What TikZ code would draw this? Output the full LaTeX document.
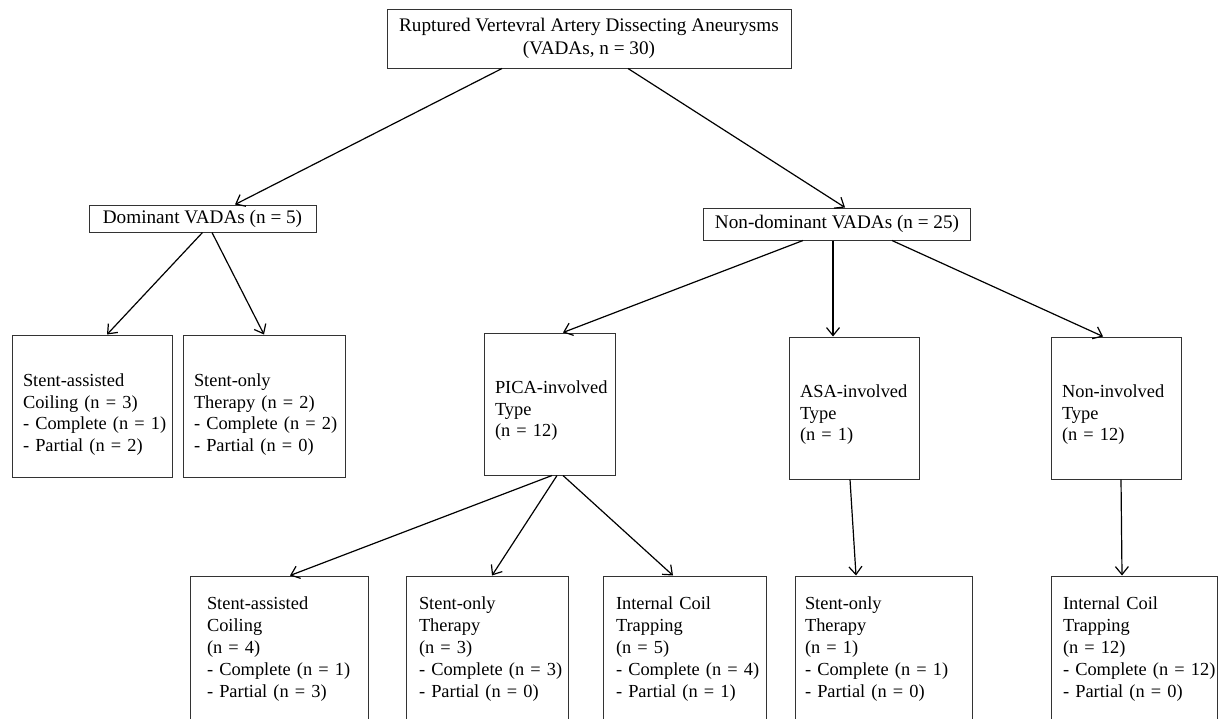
\documentclass[tikz,border=0pt]{standalone}
\usepackage{fontspec}
\setmainfont{Liberation Serif}
\usetikzlibrary{arrows.meta}
\hyphenpenalty=10000
\exhyphenpenalty=10000

\tikzset{
  box/.style={draw=black!80, line width=0.5pt, inner xsep=5.5pt, inner ysep=0pt, align=left,
    font=\fontsize{9.2}{10.9}\selectfont},
  head/.style={box, align=center, font=\fontsize{9.6}{11.2}\selectfont},
  lower/.style={execute at begin node={\rule{0pt}{#1}}},
  link/.style={-{Straight Barb[length=4pt,width=6.5pt]}, line width=0.6pt}
}

\begin{document}
\begin{tikzpicture}[x=0.5pt, y=-0.5pt]
  \useasboundingbox (0,0) rectangle (1219,718);
  % first and second level
  \node[head, minimum width=202pt, minimum height=29.5pt] (root) at (589,38.5)
    {Ruptured Vertevral Artery Dissecting Aneurysms\\(VADAs, n = 30)};
  \node[head, minimum width=113.5pt, minimum height=13.5pt] (dom) at (202.5,218.5)
    {Dominant VADAs (n = 5)};
  \node[head, minimum width=131pt, minimum height=16pt] (nondom) at (837,224)
    {Non-dominant VADAs (n = 25)};
  % dominant branch
  \node[box, lower=15pt, text width=69pt, minimum height=71pt] (sac1) at (92,406)
    {Stent-assisted\\Coiling (n = 3)\\-~Complete~(n~=~1)\\- Partial (n = 2)};
  \node[box, lower=15pt, text width=70pt, minimum height=71pt] (sot1) at (264,406)
    {Stent-only\\Therapy (n = 2)\\-~Complete~(n~=~2)\\- Partial (n = 0)};
  % non-dominant types
  \node[box, lower=13pt, text width=54.5pt, minimum height=71pt] (pica) at (549.5,404)
    {PICA-involved\\Type\\(n = 12)};
  \node[box, lower=13pt, text width=54pt, minimum height=71pt] (asa) at (854,408)
    {ASA-involved\\Type\\(n = 1)};
  \node[box, lower=13pt, text width=54pt, minimum height=71pt] (nonin) at (1116,408)
    {Non-involved\\Type\\(n = 12)};
  % treatments (boxes run off the bottom)
  \node[box, inner xsep=8.5pt, text width=72pt, minimum height=73pt] (sac2) at (279,649)
    {Stent-assisted\\Coiling\\(n = 4)\\-~Complete~(n~=~1)\\- Partial (n = 3)};
  \node[box, inner xsep=6.5pt, text width=68pt, minimum height=73pt] (sot2) at (487,649)
    {Stent-only\\Therapy\\(n = 3)\\-~Complete~(n~=~3)\\- Partial (n = 0)};
  \node[box, inner xsep=6.5pt, text width=68.5pt, minimum height=73pt] (ict1) at (684.5,649)
    {Internal Coil\\Trapping\\(n = 5)\\-~Complete~(n~=~4)\\- Partial (n = 1)};
  \node[box, inner xsep=5pt, text width=78.5pt, minimum height=73pt] (sot3) at (883.5,649)
    {Stent-only\\Therapy\\(n = 1)\\- Complete (n = 1)\\- Partial (n = 0)};
  \node[box, inner xsep=6pt, text width=71.25pt, minimum height=73pt] (ict2) at (1134.25,649)
    {Internal Coil\\Trapping\\(n = 12)\\-~Complete~(n~=~12)\\- Partial (n = 0)};
  % connectors
  \draw[link] ([xshift=-43.5pt]root.south) -- ([xshift=16.25pt]dom.north);
  \draw[link] ([xshift=19.5pt]root.south) -- ([xshift=4pt]nondom.north);
  \draw[link] (dom.south) -- ([xshift=7.5pt]sac1.north);
  \draw[link] ([xshift=4.75pt]dom.south) -- (sot1.north);
  \draw[link] ([xshift=-17pt]nondom.south) -- ([xshift=6.75pt]pica.north);
  \draw[link] ([xshift=-2pt]nondom.south) -- ([xshift=-10.5pt]asa.north);
  \draw[link] ([xshift=27.5pt]nondom.south) -- ([xshift=-6.5pt]nonin.north);
  \draw[link] ([xshift=1.25pt]pica.south) -- ([xshift=5.5pt]sac2.north);
  \draw[link] ([xshift=3.75pt]pica.south) -- ([xshift=2.5pt]sot2.north);
  \draw[link] ([xshift=6.75pt]pica.south) -- ([xshift=-5.75pt]ict1.north);
  \draw[link] ([xshift=-2pt]asa.south) -- ([xshift=-13.75pt]sot3.north);
  \draw[link] ([xshift=2.5pt]nonin.south) -- ([xshift=-6.125pt]ict2.north);
\end{tikzpicture}
\end{document}
